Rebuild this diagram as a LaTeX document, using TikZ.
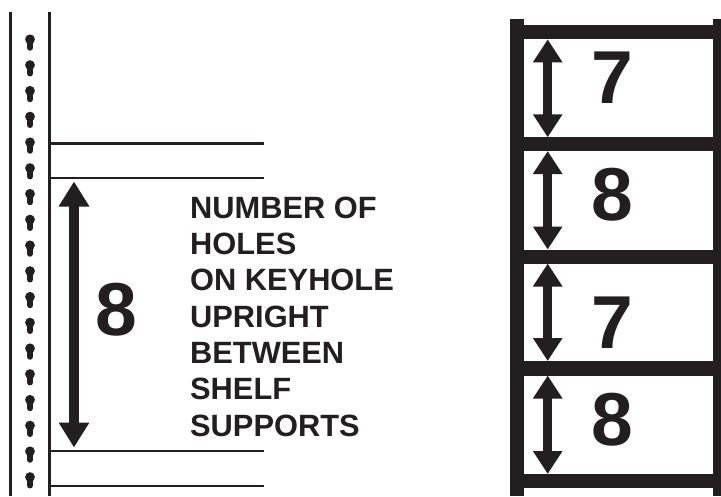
\documentclass[tikz,border=0pt]{standalone}
\usepackage{fontspec}
\setmainfont{Liberation Sans}
\usetikzlibrary{arrows.meta,positioning}
\definecolor{ink}{HTML}{231F20}
\begin{document}
\begin{tikzpicture}[x=1pt, y=-1pt, every node/.style={font=\bfseries, text=ink, inner sep=0pt},
  rail/.style={ink, line width=3pt},
  tick/.style={ink, line width=2.8pt},
  slot/.style={ink, line width=5.6pt, line cap=round},
  frame/.style={fill=ink, draw=none},
  bigarr/.style={{Triangle[length=25pt,width=29pt]}-{Triangle[length=25pt,width=29pt]}, ink, line width=10.5pt, shorten <=-0.5pt, shorten >=-0.5pt},
  smallarr/.style={{Triangle[length=23pt,width=28pt]}-{Triangle[length=23pt,width=28pt]}, ink, line width=9.5pt},
  num/.style={font=\fontsize{75}{75}\bfseries\selectfont},
  note/.style={font=\fontsize{30.8}{36.35}\bfseries\selectfont, align=left}]
\useasboundingbox (0,0) rectangle (721,496);
% keyhole upright
\draw[rail] (10.5,12) -- (10.5,496);
\draw[rail] (49,12) -- (49,496);
\foreach \i in {0,...,17} {
  \draw[slot] (30,{39.3+25.75*\i}) -- (30,{39.3+25.75*\i+8.6});
  \fill[ink] (30,{39.3+25.75*\i}) circle[radius=4.9];
}
\coordinate (t1) at (49,143.5);
\coordinate (t2) at (49,178);
\coordinate (t3) at (49,451);
\coordinate (t4) at (49,486);
\foreach \c in {t1,t2,t3,t4}
  \draw[tick] (\c) -- ++(215,0);
\coordinate (up) at (74,182);
\coordinate (dn) at (74,447);
\draw[bigarr] (up) -- (dn);
\node[num] (holes) at (116,309.5) {8};
\node[note, anchor=north west] (label) at (190,196.5) {NUMBER OF\\HOLES\\ON KEYHOLE\\UPRIGHT\\BETWEEN\\SHELF\\SUPPORTS};
% shelving frame
\fill[frame] (510,19) rectangle (524.3,496);
\fill[frame] (713.3,19) rectangle (721,496);
\fill[frame] (510,25.3) rectangle (721,39.3);
\fill[frame] (510,137.3) rectangle (721,151);
\fill[frame] (510,249.5) rectangle (721,263.5);
\fill[frame] (510,361) rectangle (721,375.5);
\fill[frame] (510,474) rectangle (721,488.3);
\coordinate (a1) at (547.7,39.3);
\coordinate (a2) at (547.7,137.3);
\coordinate (b1) at (547.7,151);
\coordinate (b2) at (547.7,249.5);
\coordinate (c1) at (547.7,263.5);
\coordinate (c2) at (547.7,361);
\coordinate (d1) at (547.7,375.5);
\coordinate (d2) at (547.7,474);
\draw[smallarr] (a1) -- (a2);
\draw[smallarr] (b1) -- (b2);
\draw[smallarr] (c1) -- (c2);
\draw[smallarr] (d1) -- (d2);
\node[num] (n7a) at (612.5,78) {7};
\node[num] (n8a) at (612.5,194.5) {8};
\node[num] (n7b) at (612.5,323) {7};
\node[num] (n8b) at (612.5,420) {8};
\end{tikzpicture}
\end{document}
